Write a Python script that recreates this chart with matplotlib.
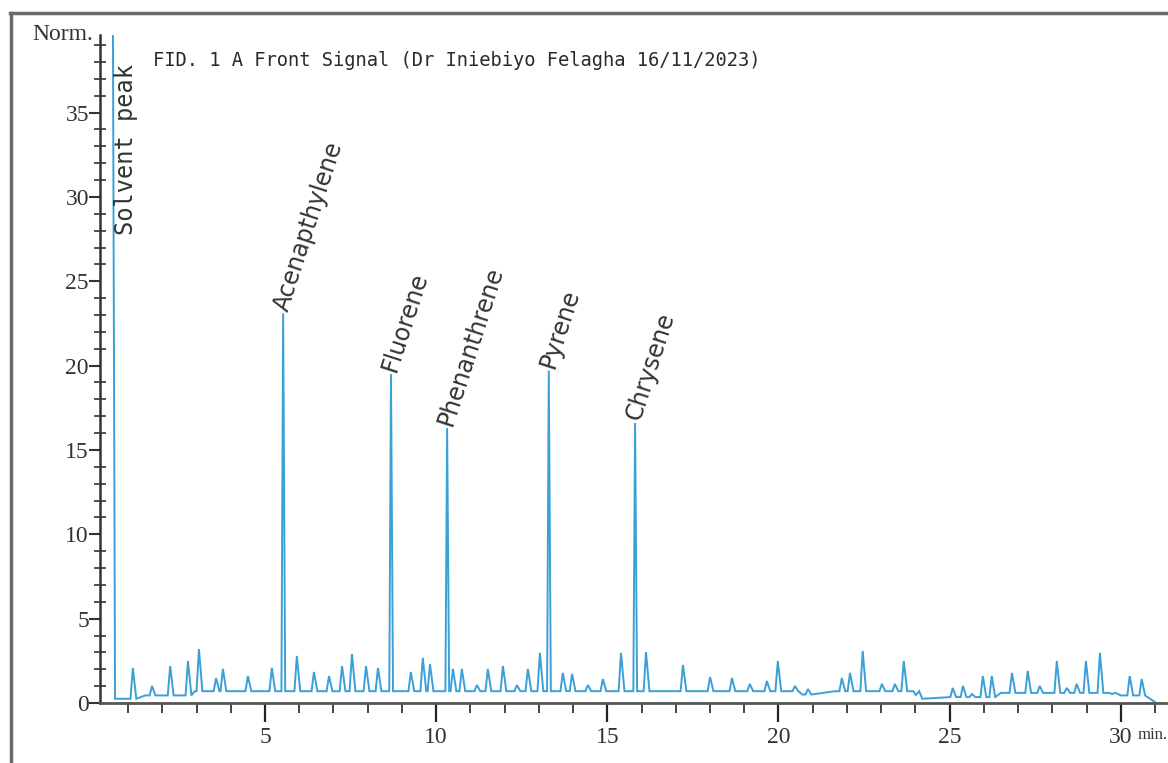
import numpy as np
import matplotlib
matplotlib.use("Agg")
import matplotlib.pyplot as plt
from matplotlib.ticker import MultipleLocator, FixedLocator
from matplotlib.lines import Line2D

# ---------------- data ----------------
title_text = "FID. 1 A Front Signal (Dr Iniebiyo Felagha 16/11/2023)"

compound_names = ["Acenapthylene", "Fluorene", "Phenanthrene", "Pyrene", "Chrysene"]
compound_times = [5.53, 8.68, 10.32, 13.29, 15.81]      # min
compound_heights = [23.1, 19.5, 16.3, 19.7, 16.6]       # Norm.

solvent_label = "Solvent peak"
solvent_time = 0.55
solvent_height = 45.0   # off-scale

minor_times = [1.14, 1.70, 2.23, 2.75, 3.07, 3.57, 3.77, 4.50, 5.20, 5.93,
               6.43, 6.87, 7.25, 7.54, 7.95, 8.30, 9.26, 9.61, 9.82, 10.49,
               10.75, 11.19, 11.51, 11.95, 12.36, 12.68, 13.03, 13.70, 13.97, 14.43,
               14.87, 15.40, 16.13, 17.21, 18.00, 18.64, 19.16, 19.66, 19.98, 20.48,
               20.86, 21.85, 22.09, 22.46, 23.02, 23.40, 23.66, 24.01, 25.09, 25.39,
               25.65, 25.97, 26.23, 26.82, 27.28, 27.63, 28.13, 28.42, 28.71, 28.98,
               29.39, 29.74, 30.26, 30.61]
minor_heights = [2.08, 1.01, 2.19, 2.49, 3.20, 1.48, 2.02, 1.60, 2.08, 2.79,
                 1.84, 1.60, 2.19, 2.91, 2.19, 2.08, 1.84, 2.67, 2.31, 2.02,
                 2.02, 1.07, 2.02, 2.19, 1.07, 2.02, 2.97, 1.78, 1.72, 1.07,
                 1.42, 2.97, 3.02, 2.25, 1.54, 1.48, 1.13, 1.30, 2.49, 1.01,
                 0.83, 1.48, 1.78, 3.08, 1.13, 1.13, 2.49, 0.47, 0.89, 1.01,
                 0.53, 1.60, 1.60, 1.78, 1.90, 1.01, 2.49, 0.89, 1.13, 2.49,
                 2.97, 0.53, 1.60, 1.42]

baseline_times = [0.62, 1.5, 2.95, 20.7, 21.65, 24.2, 25.0, 26.5, 30.0, 31.0]
baseline_levels = [0.25, 0.45, 0.7, 0.5, 0.7, 0.25, 0.35, 0.6, 0.45, 0.05]

x_ticks = [5, 10, 15, 20, 25, 30]
x_tick_labels = ["5", "10", "15", "20", "25", "30"]
y_ticks = [0, 5, 10, 15, 20, 25, 30, 35]
y_tick_labels = ["0", "5", "10", "15", "20", "25", "30", "35"]

# ---------------- build trace vertices ----------------
def base_at(t):
    i = np.searchsorted(baseline_times, t, side="right") - 1
    i = max(i, 0)
    return baseline_levels[i]

pts = [(solvent_time, solvent_height)]
for bt, bl in zip(baseline_times, baseline_levels):
    pts.append((bt, bl))
for t, h in zip(minor_times, minor_heights):
    b = base_at(t)
    pts += [(t - 0.07, b), (t, h), (t + 0.10, b)]
for t, h in zip(compound_times, compound_heights):
    b = base_at(t)
    pts += [(t - 0.05, b), (t, h), (t + 0.06, b)]
pts.sort(key=lambda p: p[0])
xs = [p[0] for p in pts]
ys = [p[1] for p in pts]

# ---------------- figure ----------------
W, H = 1168, 763
fig = plt.figure(figsize=(W / 100, H / 100), dpi=100)
fig.patch.set_facecolor("white")

ax = fig.add_axes([100 / W, (H - 703) / H, (1166 - 100) / W, (703 - 35) / H])
ax.set_facecolor("white")
ax.plot(xs, ys, color="#3aa0d8", lw=1.4, solid_joinstyle="miter")

ax.set_xlim(0.18, 31.32)
ax.set_ylim(0, 39.6)

for s in ["top", "right"]:
    ax.spines[s].set_visible(False)
ax.spines["left"].set_color("#333333")
ax.spines["left"].set_linewidth(1.8)
ax.spines["bottom"].set_color("#555555")
ax.spines["bottom"].set_linewidth(2.0)

serif = "Liberation Serif"
ax.xaxis.set_major_locator(FixedLocator(x_ticks))
ax.set_xticklabels(x_tick_labels, family=serif, fontsize=17, color="#333333")
ax.xaxis.set_minor_locator(MultipleLocator(1))
ax.tick_params(axis="x", which="major", direction="out", length=14, width=1.6,
               color="#222222", pad=3)
ax.tick_params(axis="x", which="minor", direction="out", length=7, width=1.4,
               color="#444444")

ax.yaxis.set_major_locator(FixedLocator(y_ticks))
ax.set_yticklabels(y_tick_labels, family=serif, fontsize=17, color="#333333")
ax.yaxis.set_minor_locator(MultipleLocator(1))
ax.tick_params(axis="y", which="major", direction="out", length=8, width=1.5,
               color="#333333", pad=0)
ax.tick_params(axis="y", which="minor", direction="inout", length=8, width=1.3,
               color="#444444")

# "min." unit after the 30 label
ax.annotate("min.", xy=(30, 0), xycoords=("data", "axes fraction"),
            xytext=(12, -17), textcoords="offset points", ha="left", va="top",
            family=serif, fontsize=12, color="#333333")

# compound labels
for name, t, h in zip(compound_names, compound_times, compound_heights):
    ax.text(t - 0.06, h + 0.2, name, rotation=72, rotation_mode="anchor",
            ha="left", va="center", fontsize=17, family="DejaVu Sans",
            color="#333333")

ax.text(solvent_time + 0.39, 32.8, solvent_label, rotation=90,
        rotation_mode="anchor", ha="center", va="center", fontsize=17,
        family="DejaVu Sans Mono", color="#333333")

# title and axis name
fig.text(153 / W, 1 - 60 / H, title_text, ha="left", va="center",
         family="DejaVu Sans Mono", fontsize=13.5, color="#2a2a2a")
fig.text(93 / W, 1 - 34 / H, "Norm.", ha="right", va="center",
         family=serif, fontsize=17, color="#333333")

# outer frame (top and left edges)
fig.add_artist(Line2D([10 / W, 1.0], [1 - 13 / H, 1 - 13 / H],
                      transform=fig.transFigure, color="#6a6a6a", lw=2.5))
fig.add_artist(Line2D([11 / W, 11 / W], [0.0, 1 - 13 / H],
                      transform=fig.transFigure, color="#6a6a6a", lw=2.5))

fig.savefig("out.png", dpi=100)
